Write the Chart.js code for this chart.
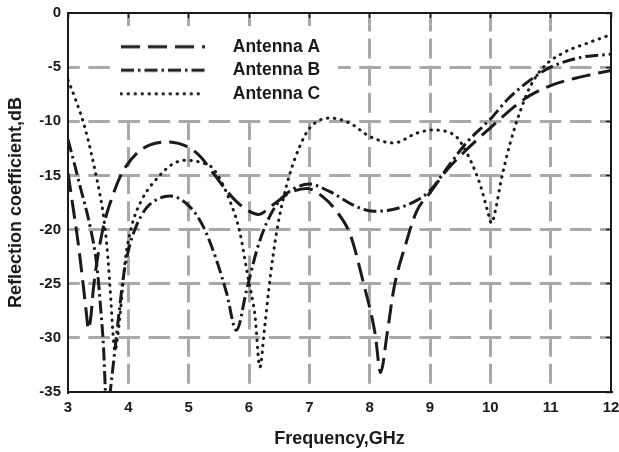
<!DOCTYPE html>
<html>
<head>
<meta charset="utf-8">
<script src="https://cdn.jsdelivr.net/npm/chart.js@4.4.1/dist/chart.umd.min.js"></script>
<style>
html,body{margin:0;padding:0;background:#fff;}
#wrap{width:619px;height:452px;}
</style>
</head>
<body>
<div id="wrap"><canvas id="c" width="619" height="452"></canvas></div>
<script>
// ---- data ----
const seriesNames = ['Antenna A', 'Antenna B', 'Antenna C'];

const freqA = [3.0, 3.08, 3.17, 3.25, 3.3, 3.34, 3.38, 3.42, 3.53, 3.62, 3.72, 3.85, 3.97, 4.15, 4.35, 4.65, 5.0, 5.2, 5.41, 5.6, 5.79, 6.0, 6.15, 6.4, 6.68, 6.96, 7.23, 7.45, 7.68, 7.9, 8.09, 8.18, 8.29, 8.4, 8.6, 8.78, 9.0, 9.28, 9.61, 10.0, 10.55, 11.0, 11.5, 12.0];
const lossA = [-14.8, -17.8, -21.3, -25.0, -27.5, -29.2, -28.0, -25.5, -21.3, -19.0, -17.2, -15.3, -14.1, -12.9, -12.2, -11.9, -12.4, -13.3, -14.8, -16.2, -17.4, -18.3, -18.6, -17.7, -16.6, -16.2, -17.0, -18.3, -20.5, -25.0, -29.6, -33.2, -29.6, -25.5, -21.3, -18.3, -16.6, -14.5, -12.6, -10.6, -8.0, -6.7, -5.9, -5.3];

const freqB = [3.0, 3.1, 3.2, 3.37, 3.48, 3.54, 3.59, 3.625, 3.655, 3.69, 3.76, 3.84, 3.92, 4.02, 4.13, 4.3, 4.52, 4.69, 5.02, 5.24, 5.46, 5.63, 5.79, 5.96, 6.13, 6.29, 6.51, 6.75, 7.0, 7.34, 7.79, 8.06, 8.34, 8.78, 9.0, 9.3, 9.6, 10.0, 10.3, 10.66, 11.0, 11.5, 12.0];
const lossB = [-11.7, -13.8, -16.0, -19.8, -23.4, -27.2, -31.0, -35.5, -37.5, -35.5, -32.0, -28.0, -24.3, -21.5, -19.7, -18.0, -17.1, -16.9, -17.9, -19.7, -22.8, -25.9, -29.3, -25.6, -21.9, -19.4, -17.3, -16.2, -15.8, -16.5, -17.9, -18.3, -18.2, -17.3, -16.4, -14.2, -12.0, -9.8, -7.9, -6.2, -5.0, -4.1, -3.8];

const freqC = [3.0, 3.12, 3.29, 3.48, 3.59, 3.66, 3.71, 3.745, 3.78, 3.82, 3.87, 3.95, 4.05, 4.2, 4.52, 4.75, 4.96, 5.2, 5.41, 5.68, 5.85, 5.98, 6.1, 6.18, 6.26, 6.35, 6.45, 6.55, 6.68, 6.85, 7.01, 7.34, 7.68, 8.0, 8.4, 8.78, 9.05, 9.3, 9.45, 9.67, 9.84, 9.95, 10.02, 10.1, 10.17, 10.33, 10.5, 10.66, 10.88, 11.2, 11.6, 12.0];
const lossC = [-6.2, -7.9, -10.8, -15.4, -18.8, -22.5, -26.5, -29.6, -31.2, -30.0, -27.5, -22.8, -19.8, -17.5, -15.0, -13.9, -13.6, -13.8, -14.4, -17.3, -20.3, -24.3, -28.0, -32.7, -29.0, -24.5, -20.5, -17.6, -14.8, -12.2, -10.6, -9.7, -10.2, -11.4, -12.0, -11.1, -10.8, -11.0, -11.5, -13.6, -16.0, -18.2, -19.4, -17.8, -15.7, -12.0, -9.0, -6.8, -5.0, -3.7, -2.8, -2.0];

const xTicks = [3, 4, 5, 6, 7, 8, 9, 10, 11, 12];
const yTicks = [-35, -30, -25, -20, -15, -10, -5, 0];

// ---- styles ----
const INK = '#1a1a1a';
const GRID = '#a9a9a9';
const FONT = '"Liberation Sans", Arial, Helvetica, sans-serif';
const dashes = [[19, 8], [13, 4, 2.5, 4], [0.5, 6.5]];
const caps = ['butt', 'butt', 'round'];

function legendGlyph(dash, cap) {
  const c = document.createElement('canvas');
  c.width = 104; c.height = 10;
  const g = c.getContext('2d');
  g.strokeStyle = INK; g.lineWidth = 3; g.lineCap = cap; g.setLineDash(dash);
  g.beginPath(); g.moveTo(1, 5); g.lineTo(85, 5); g.stroke();
  return c;
}
const glyphs = dashes.map((d, i) => legendGlyph(d, caps[i]));

const pts = (xs, ys) => xs.map((x, i) => ({x: x, y: ys[i]}));
const xs = [freqA, freqB, freqC];
const ys = [lossA, lossB, lossC];

const datasets = seriesNames.map((name, i) => ({
  label: name,
  data: pts(xs[i], ys[i]),
  borderColor: INK,
  backgroundColor: INK,
  borderWidth: 3,
  borderDash: dashes[i],
  borderCapStyle: caps[i],
  pointRadius: 0,
  fill: false,
  cubicInterpolationMode: 'monotone',
  xAxisID: 'x',
  yAxisID: 'y'
}));

const edgeClear = (vals) => (ctx) => (ctx.tick && vals.includes(ctx.tick.value)) ? 'rgba(0,0,0,0)' : GRID;
const noPad = (s) => { s.paddingLeft = 0; s.paddingRight = 0; s.paddingTop = 0; s.paddingBottom = 0; };

const legendPlace = {
  id: 'legendPlace',
  beforeDraw(chart) {
    const lg = chart.legend; if (!lg) return;
    const w = lg.width, h = lg.height;
    lg.left = 114; lg.top = 32; lg.right = lg.left + w; lg.bottom = lg.top + h;
  },
  afterDatasetsDraw(chart) {
    const lg = chart.legend; if (!lg) return;
    const ctx = chart.ctx;
    ctx.save();
    ctx.fillStyle = '#ffffff';
    ctx.fillRect(lg.left - 4, lg.top - 6, 228, 87);
    ctx.restore();
    lg.draw(chart.chartArea);
  }
};

const tickFont = {family: FONT, size: 15, weight: 'bold'};
const titleFont = {family: FONT, size: 18, weight: 'bold'};

new Chart(document.getElementById('c'), {
  type: 'line',
  data: {datasets: datasets},
  plugins: [legendPlace],
  options: {
    responsive: false,
    devicePixelRatio: 1,
    animation: false,
    events: [],
    layout: {padding: 0},
    plugins: {
      tooltip: {enabled: false},
      legend: {
        position: 'chartArea',
        align: 'start',
        labels: {
          usePointStyle: true,
          pointStyleWidth: 104,
          padding: 6,
          color: INK,
          font: {family: FONT, size: 17.5, weight: 'bold'},
          generateLabels: (chart) => Chart.defaults.plugins.legend.labels.generateLabels(chart)
            .map((it, i) => Object.assign(it, {pointStyle: glyphs[i]}))
        }
      }
    },
    scales: {
      x: {
        type: 'linear', axis: 'x', position: 'bottom', min: 3, max: 12,
        afterBuildTicks: (s) => { s.ticks = xTicks.map(v => ({value: v})); },
        afterFit: (s) => { s.height = 60; noPad(s); },
        ticks: {font: tickFont, color: INK, padding: 7, maxRotation: 0, autoSkip: false},
        grid: {color: edgeClear([3, 12]), lineWidth: 3, drawTicks: false},
        border: {display: true, color: INK, width: 2, dash: [20, 7.1], dashOffset: 1.5},
        title: {display: true, text: 'Frequency,GHz', font: titleFont, color: INK, padding: {top: 0, bottom: 2}}
      },
      y: {
        type: 'linear', axis: 'y', position: 'left', min: -35, max: 0,
        afterBuildTicks: (s) => { s.ticks = yTicks.map(v => ({value: v})); },
        afterFit: (s) => { s.width = 68; noPad(s); },
        ticks: {font: tickFont, color: INK, padding: 7, autoSkip: false},
        grid: {color: edgeClear([-35, 0]), lineWidth: 3, drawTicks: false},
        border: {display: true, color: INK, width: 2, dash: [21.6, 8.5], dashOffset: 10.8},
        title: {display: true, text: 'Reflection coefficient,dB', font: titleFont, color: INK, padding: {top: 5.7, bottom: 0}}
      },
      xTop: {
        type: 'linear', axis: 'x', position: 'top', min: 3, max: 12,
        afterBuildTicks: (s) => { s.ticks = xTicks.map(v => ({value: v})); },
        afterFit: (s) => { s.height = 13; noPad(s); },
        ticks: {display: false},
        grid: {display: true, drawOnChartArea: false, drawTicks: true, tickLength: -5, tickColor: INK, tickWidth: 1.5},
        border: {display: true, color: INK, width: 2}
      },
      yRight: {
        type: 'linear', axis: 'y', position: 'right', min: -35, max: 0,
        afterBuildTicks: (s) => { s.ticks = yTicks.map(v => ({value: v})); },
        afterFit: (s) => { s.width = 8; noPad(s); },
        ticks: {display: false},
        grid: {display: true, drawOnChartArea: false, drawTicks: true, tickLength: -5, tickColor: INK, tickWidth: 1.5},
        border: {display: true, color: INK, width: 2}
      }
    }
  }
});
</script>
</body>
</html>
